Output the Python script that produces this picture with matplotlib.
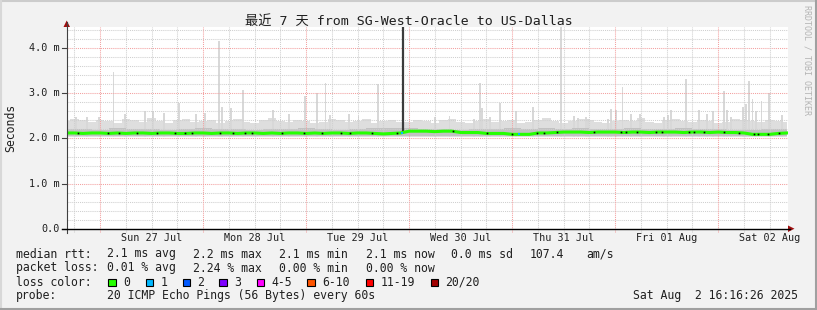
import numpy as np
import matplotlib.pyplot as plt
from matplotlib.patches import Rectangle, Polygon
from matplotlib.lines import Line2D
from matplotlib.transforms import blended_transform_factory

plt.rcParams['font.family'] = ['DejaVu Sans Mono', 'Noto Sans CJK SC']

W, H = 817, 310

# x values are hours relative to Sun 27 Jul 00:00
t_start, t_end = -7.73, 160.27
y_max = 4.46

title = '最近 7 天 from SG-West-Oracle to US-Dallas'
day_hours = [12, 36, 60, 84, 108, 132, 156]
day_labels = ['Sun 27 Jul', 'Mon 28 Jul', 'Tue 29 Jul', 'Wed 30 Jul',
              'Thu 31 Jul', 'Fri 01 Aug', 'Sat 02 Aug']
y_ticks = [0, 1, 2, 3, 4]
y_labels = ['0.0', '1.0 m', '2.0 m', '3.0 m', '4.0 m']

# median rtt (ms), one value per 2 hours from -8 h
hours = np.arange(-8, 161, 2)
median_rtt = [2.12, 2.12, 2.11, 2.12, 2.12, 2.11, 2.12, 2.11, 2.12, 2.12,
              2.11, 2.12, 2.12, 2.11, 2.11, 2.12, 2.12, 2.11, 2.12, 2.12,
              2.11, 2.12, 2.12, 2.11, 2.12, 2.11, 2.12, 2.12, 2.11, 2.12,
              2.11, 2.12, 2.12, 2.11, 2.12, 2.12, 2.11, 2.10, 2.11, 2.12,
              2.16, 2.16, 2.16, 2.15, 2.16, 2.16, 2.13, 2.13, 2.13, 2.11,
              2.11, 2.11, 2.09, 2.09, 2.09, 2.12, 2.12, 2.13, 2.14, 2.14,
              2.14, 2.13, 2.14, 2.14, 2.14, 2.13, 2.14, 2.14, 2.13, 2.14,
              2.14, 2.14, 2.13, 2.14, 2.14, 2.13, 2.14, 2.13, 2.13, 2.12,
              2.09, 2.09, 2.09, 2.11, 2.12]

# light smoke upper edge (ms), per 2 hours
smoke_top = [2.38, 2.42, 2.40, 2.36, 2.41, 2.39, 2.35, 2.42, 2.40, 2.37,
             2.44, 2.38, 2.34, 2.40, 2.43, 2.36, 2.39, 2.41, 2.35, 2.38,
             2.42, 2.37, 2.33, 2.40, 2.45, 2.38, 2.36, 2.41, 2.39, 2.34,
             2.37, 2.42, 2.40, 2.36, 2.38, 2.43, 2.35, 2.39, 2.41, 2.37,
             2.36, 2.40, 2.38, 2.34, 2.41, 2.43, 2.37, 2.35, 2.39, 2.42,
             2.36, 2.38, 2.40, 2.34, 2.37, 2.41, 2.44, 2.38, 2.35, 2.39,
             2.42, 2.40, 2.36, 2.33, 2.38, 2.41, 2.39, 2.45, 2.37, 2.35,
             2.40, 2.42, 2.38, 2.36, 2.41, 2.39, 2.34, 2.37, 2.43, 2.40,
             2.38, 2.36, 2.41, 2.39, 2.37]

# darker smoke upper edge (ms), per 4 hours
hours4 = np.arange(-8, 161, 4)
smoke_mid = [2.20, 2.21, 2.19, 2.22, 2.20, 2.21, 2.19, 2.20, 2.22, 2.21,
             2.20, 2.19, 2.21, 2.20, 2.22, 2.20, 2.19, 2.21, 2.23, 2.23,
             2.22, 2.21, 2.20, 2.19, 2.20, 2.21, 2.22, 2.21, 2.22, 2.21,
             2.22, 2.20, 2.21, 2.22, 2.21, 2.20, 2.22, 2.21, 2.20, 2.19,
             2.18, 2.20, 2.21]

# single pings that stick out of the smoke
spike_hours = [-5.6, -3.1, -0.3, 3.1, 5.8, 10.5, 12.3, 14.9, 18.3, 22.4,
               24.5, 27.7, 28.4, 30.5, 33.2, 40.2, 44.1, 47.8, 50.5, 52.5,
               53.6, 57.9, 60.2, 64.8, 78.1, 81.4, 87.0, 88.5, 88.9, 90.8,
               93.1, 96.8, 100.8, 107.4, 110.4, 111.3, 113.1, 113.6, 118.3, 119.0,
               120.1, 121.7, 123.6, 125.8, 131.4, 132.4, 133.1, 136.5, 139.6, 141.5,
               142.7, 145.3, 146.0, 147.0, 149.7, 150.5, 151.2, 152.0, 152.8, 154.1,
               155.9, 158.9]
spike_ms = [2.47, 2.48, 2.48, 3.47, 2.55, 2.61, 2.61, 2.57, 2.79, 2.53,
            2.57, 4.15, 2.69, 2.67, 3.07, 2.63, 2.53, 2.94, 3.01, 3.23,
            2.52, 2.55, 2.49, 3.21, 2.47, 2.50, 2.43, 3.22, 2.67, 2.48,
            2.79, 2.60, 2.69, 4.46, 2.50, 2.44, 2.47, 2.43, 2.43, 2.66,
            2.63, 3.14, 2.55, 2.55, 2.47, 2.52, 2.62, 3.31, 2.63, 2.55,
            2.60, 3.05, 2.63, 2.48, 2.70, 2.76, 3.27, 2.88, 2.60, 2.82,
            3.01, 2.52]

# unknown / outage marker
gap_hour = 70.5
gap_from = 2.15

dark_hours = [-5.2, 1.8, 4.4, 8.6, 13.3, 17.5, 19.8, 21.4, 28.0, 31.0,
              33.8, 35.4, 42.4, 47.4, 51.7, 56.0, 58.3, 63.4, 69.2, 82.3,
              90.2, 96.0, 101.9, 103.4, 106.5, 115.1, 121.3, 122.5, 125.2, 129.5,
              131.0, 137.2, 138.4, 140.7, 145.4, 148.9, 152.4, 153.2, 155.5, 158.2]
loss1_hours = [70.3, 97.7]

loss_labels = ['0', '1', '2', '3', '4-5', '6-10', '11-19', '20/20']
loss_colors = ['#26ff00', '#00b8ff', '#0059ff', '#7e00ff', '#ff00ff',
               '#ff5500', '#ff0000', '#a10000']
loss_box_x = [108, 145.5, 182.5, 219.5, 256.5, 307, 365.5, 430.5]

rtt_items = ['2.1 ms avg', '2.2 ms max', '2.1 ms min', '2.1 ms now', '0.0 ms sd', '107.4', 'am/s']
rtt_x = [107, 193, 279, 365.5, 451, 530, 586]
loss_items = ['0.01 % avg', '2.24 % max', '0.00 % min', '0.00 % now']
loss_x = [107, 193, 279, 365.5]


def fx(x):
    return x / W


def fy(y):
    return 1 - y / H


fig = plt.figure(figsize=(W / 100, H / 100), dpi=100, facecolor='#f2f2f2')
ax = fig.add_axes([fx(67), fy(229), 721 / W, 202 / H])
ax.set_facecolor('white')
ax.set_xlim(t_start, t_end)
ax.set_ylim(0, y_max)
for s in ax.spines.values():
    s.set_visible(False)
ax.set_xticks([])
ax.set_yticks([])

# smoke
ax.fill_between(hours, 2.04, smoke_top, step='mid', color='#dedede', lw=0, zorder=1)
ax.bar(spike_hours, np.array(spike_ms) - 2.04, bottom=2.04, width=0.45,
       color='#d8d8d8', lw=0, zorder=1)
ax.fill_between(hours4, 2.06, smoke_mid, step='mid', color='#c2c2c2', lw=0, zorder=1.5)

# grid
dots = (0, (1, 1))
for v in np.arange(0.2, y_max, 0.2):
    major = abs(v - round(v)) < 1e-6
    ax.axhline(v, color='#f3a0a0' if major else '#cfcfcf', lw=0.75, ls=dots, zorder=3)
for h in np.arange(-6, t_end, 6):
    major = h % 24 == 0
    ax.axvline(h, ymin=-3 / 202, ymax=1, color='#f3a0a0' if major else '#cfcfcf',
               lw=0.75, ls=dots, zorder=3, clip_on=False)

# median and markers
ax.vlines(gap_hour, gap_from, y_max, color='#3c3c3c', lw=1.6, zorder=4)
ax.plot(hours, median_rtt, color='#26ff00', lw=2.2, zorder=5)
ax.plot(dark_hours, np.interp(dark_hours, hours, median_rtt), 's', ms=1.2,
        color='black', mew=0, zorder=6)
ax.plot(loss1_hours, np.interp(loss1_hours, hours, median_rtt), 's', ms=2,
        color='#00b8ff', mew=0, zorder=6)

# axes lines and arrows
fig.add_artist(Line2D([fx(66.5), fx(66.5)], [fy(22), fy(233)], color='#404040', lw=0.8))
fig.add_artist(Line2D([fx(62), fx(790)], [fy(228.7), fy(228.7)], color='black', lw=1))
fig.add_artist(Polygon([(fx(63.5), fy(27)), (fx(70), fy(27)), (fx(66.7), fy(20.5))],
                       closed=True, color='#a01010', lw=0))
fig.add_artist(Polygon([(fx(788), fy(225.5)), (fx(788), fy(232)), (fx(794.5), fy(228.7))],
                       closed=True, color='#a01010', lw=0))

# tick labels
tr_y = blended_transform_factory(fig.transFigure, ax.transData)
tr_x = blended_transform_factory(ax.transData, fig.transFigure)
for v, lab in zip(y_ticks, y_labels):
    ax.text(fx(60), v, lab, transform=tr_y, ha='right', va='center', fontsize=7.3, color='#202020')
    ax.plot([fx(62), fx(67)], [v, v], transform=tr_y, color='#404040', lw=0.8, clip_on=False)
for h, lab in zip(day_hours, day_labels):
    ax.text(h, fy(238), lab, transform=tr_x, ha='center', va='center', fontsize=7.3, color='#202020')

# titles
fig.text(fx(408.5), fy(21), title, ha='center', va='center', fontsize=9.5, color='#202020')
fig.text(fx(10.5), fy(128), 'Seconds', rotation=90, ha='center', va='center',
         fontsize=8.3, color='#202020')
fig.text(fx(807), fy(60), 'RRDTOOL / TOBI OETIKER', rotation=270, ha='center', va='center',
         fontsize=6, color='#b4b4b4')

# legend
fs = 8.3
fig.text(fx(16), fy(254), 'median rtt:', va='center', fontsize=fs, color='#202020')
for lab, x in zip(rtt_items, rtt_x):
    fig.text(fx(x), fy(254), lab, va='center', fontsize=fs, color='#202020')
fig.text(fx(16), fy(268), 'packet loss:', va='center', fontsize=fs, color='#202020')
for lab, x in zip(loss_items, loss_x):
    fig.text(fx(x), fy(268), lab, va='center', fontsize=fs, color='#202020')
fig.text(fx(16), fy(282), 'loss color:', va='center', fontsize=fs, color='#202020')
for lab, col, x in zip(loss_labels, loss_colors, loss_box_x):
    fig.add_artist(Rectangle((fx(x), fy(286)), 7.5 / W, 7.5 / H, facecolor=col,
                             edgecolor='black', lw=0.8))
    fig.text(fx(x + 15), fy(282), lab, va='center', fontsize=fs, color='#202020')
fig.text(fx(16), fy(296), 'probe:', va='center', fontsize=fs, color='#202020')
fig.text(fx(107.3), fy(296), '20 ICMP Echo Pings (56 Bytes) every 60s', va='center',
         fontsize=fs, color='#202020')
fig.text(fx(633), fy(296), 'Sat Aug  2 16:16:26 2025', va='center', fontsize=fs, color='#202020')

# image border
fig.add_artist(Line2D([0, 1], [fy(0.7), fy(0.7)], color='#cccccc', lw=1.5))
fig.add_artist(Line2D([fx(0.7), fx(0.7)], [0, 1], color='#d8d8d8', lw=1.5))
fig.add_artist(Line2D([0, 1], [fy(309), fy(309)], color='#a0a0a0', lw=1.5))
fig.add_artist(Line2D([fx(816), fx(816)], [0, 1], color='#a0a0a0', lw=1.5))

fig.savefig('out.png', dpi=100, facecolor=fig.get_facecolor())
